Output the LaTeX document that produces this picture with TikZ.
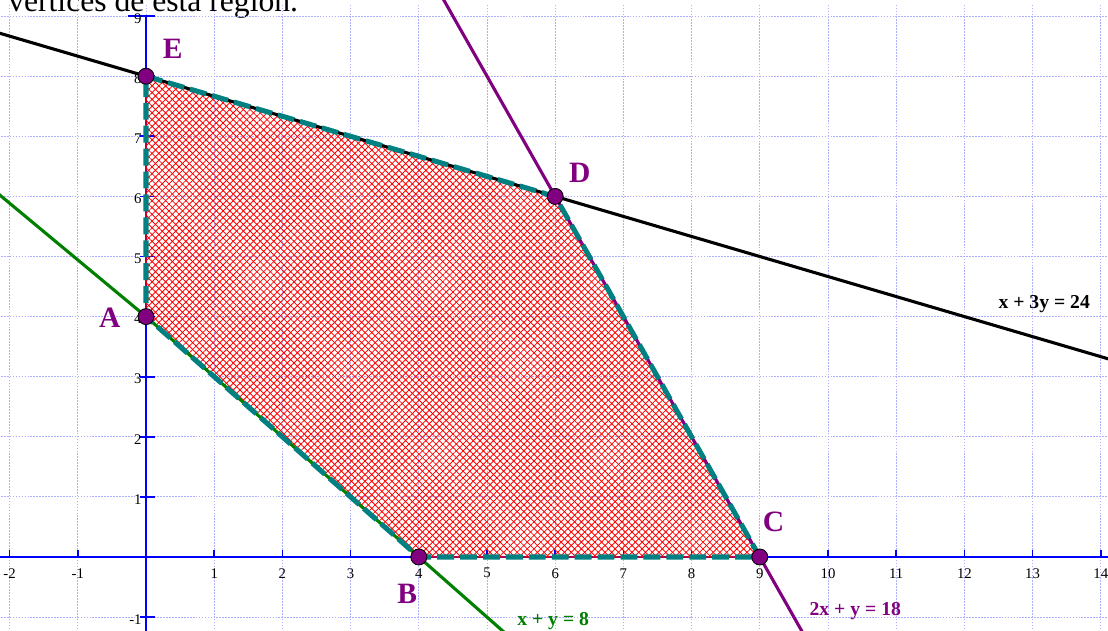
\documentclass[tikz,border=0pt]{standalone}
\usepackage{fontspec}
\setmainfont{Liberation Serif}
\usetikzlibrary{patterns.meta}
\definecolor{vpurple}{RGB}{128,0,128}
\definecolor{vteal}{RGB}{0,128,128}
\definecolor{vgreen}{RGB}{0,128,0}
\definecolor{gridblue}{RGB}{175,175,255}

\begin{document}
\begin{tikzpicture}[
    x=1.705cm, y=1.5025cm,
    gridline/.style={draw=gridblue, line width=0.7pt, dash pattern=on 1.2pt off 0.9pt},
    axis/.style={draw=blue, line width=2pt},
    tickmark/.style={draw=blue, line width=1.2pt},
    num/.style={font=\fontsize{10.5}{11}\selectfont, inner sep=0pt},
    line/.style={line width=2.2pt},
    vertex/.style={circle, draw=black, fill=vpurple, line width=0.6pt, inner sep=0pt, minimum size=0.4cm},
    vlabel/.style={text=vpurple, font=\fontsize{21}{21}\selectfont\bfseries, inner sep=0pt},
    eqlabel/.style={font=\fontsize{14}{14}\selectfont\bfseries, inner sep=0pt}
]
    \useasboundingbox (-3.65cm,-1.825cm) rectangle (24.05cm,13.925cm);
    \fill[white] (-3.65cm,-1.825cm) rectangle (24.05cm,13.925cm);
    \clip (-3.65cm,-1.825cm) rectangle (24.05cm,13.925cm);

    % Text above
    \node[anchor=base west, inner sep=0pt, font=\fontsize{22.5}{27}\selectfont] (caption) at (-3.45cm,13.625cm) {vértices de esta región.};

    % Grid
    \foreach \i in {-2,...,14} \draw[gridline] (\i,-1.4) -- (\i,9.2);
    \foreach \j in {-1,...,9} \draw[gridline] (-2.3,\j) -- (14.3,\j);

    % Vertices
    \coordinate (A) at (0,4);
    \coordinate (B) at (4,0);
    \coordinate (C) at (9,0);
    \coordinate (D) at (6,6);
    \coordinate (E) at (0,8);

    % Axes
    \draw[axis] (-2.3,0) -- (14.3,0);
    \draw[axis] (0,-1.4) -- (0,9);
    \draw[tickmark] (-0.27,9) -- (0.13,9);
    \foreach \i in {-2,-1,1,2,3,4,5,6,7,8,9,10,11,12,13,14} {
        \draw[tickmark] (\i,-0.02) -- (\i,0.12);
        \node[num] at (\i,-0.27) {\i};
    }
    \foreach \j in {-1,1,2,3,4,5,6,7,8,9} {
        \draw[tickmark] (-0.09,\j) -- (0.13,\j);
        \node[num, anchor=east] at (-0.06,\j-0.04) {\j};
    }

    % Feasible region
    \fill[pattern={Lines[angle=45,distance=3.4pt,line width=0.6pt]}, pattern color=red]
        (E) -- (5.65,6.1167) .. controls (D) .. (6.12,5.76) -- (C) -- (B) -- (A) -- cycle;
    \fill[pattern={Lines[angle=-45,distance=3.4pt,line width=0.6pt]}, pattern color=red]
        (E) -- (5.65,6.1167) .. controls (D) .. (6.12,5.76) -- (C) -- (B) -- (A) -- cycle;
    \draw[red, line width=0.9pt]
        (E) -- (5.65,6.1167) .. controls (D) .. (6.12,5.76) -- (C) -- (B) -- (A) -- cycle;

    % Constraint lines
    \draw[line, black] (-2.5,8.8333) -- (E) -- (D) -- (14.5,3.1667);
    \draw[line, vpurple] (4,10) -- (D) -- (C) -- (10,-2);
    \draw[line, vgreen] (-3,6.83) -- (A) -- (B) -- (6,-2);

    % Region border
    \draw[vteal, line width=3.6pt, dash pattern=on 12pt off 4.3pt]
        (E) -- (5.65,6.1167) .. controls (D) .. (6.12,5.76) -- (C) -- (B) -- (A) -- cycle;

    % Vertex points
    \node[vertex] (pA) at (A) {};
    \node[vertex] (pB) at (B) {};
    \node[vertex] (pC) at (C) {};
    \node[vertex] (pD) at (D) {};
    \node[vertex] (pE) at (E) {};

    % Labels
    \node[vlabel] (lA) at (-0.53,3.98) {A};
    \node[vlabel] (lB) at (3.83,-0.61) {B};
    \node[vlabel] (lC) at (9.2,0.58) {C};
    \node[vlabel] (lD) at (6.36,6.39) {D};
    \node[vlabel] (lE) at (0.39,8.46) {E};

    \node[eqlabel, text=black] (eq1) at (13.17,4.2) {x + 3y = 24};
    \node[eqlabel, text=vpurple] (eq2) at (10.4,-0.9) {2x + y = 18};
    \node[eqlabel, text=vgreen] (eq3) at (5.97,-1.06) {x + y = 8};
\end{tikzpicture}
\end{document}
